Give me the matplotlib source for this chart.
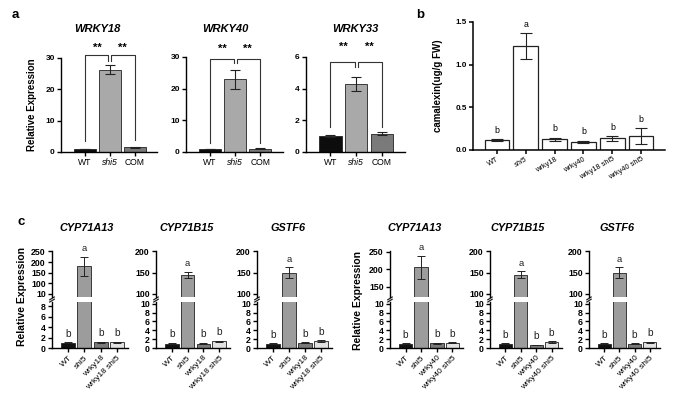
import numpy as np
import matplotlib
matplotlib.use("Agg")
import matplotlib.pyplot as plt

plt.rcParams['font.family'] = ['Liberation Sans', 'DejaVu Sans']

# ---------------- data ----------------
a_genes = ['WRKY18', 'WRKY40', 'WRKY33']
a_groups = ['WT', 'shi5', 'COM']
a_wrky18_mean = [1.0, 26.3, 1.5]
a_wrky18_err = [0.1, 1.5, 0.2]
a_wrky40_mean = [1.0, 23.0, 1.0]
a_wrky40_err = [0.1, 3.0, 0.15]
a_wrky33_mean = [1.0, 4.3, 1.15]
a_wrky33_err = [0.08, 0.45, 0.1]
a_yticks18 = [0, 10, 20, 30]
a_yticks40 = [0, 10, 20, 30]
a_yticks33 = [0, 2, 4, 6]

b_groups = ['WT', 'shi5', 'wrky18', 'wrky40', 'wrky18 shi5', 'wrky40 shi5']
b_mean = [0.11, 1.22, 0.12, 0.09, 0.13, 0.16]
b_err = [0.01, 0.15, 0.02, 0.015, 0.03, 0.09]
b_letters = ['b', 'a', 'b', 'b', 'b', 'b']
b_yticks = [0.0, 0.5, 1.0, 1.5]

c_genes = ['CYP71A13', 'CYP71B15', 'GSTF6']
c_groups18 = ['WT', 'shi5', 'wrky18', 'wrky18 shi5']
c_groups40 = ['WT', 'shi5', 'wrky40', 'wrky40 shi5']
c_letters = ['b', 'a', 'b', 'b']
c18_a13_mean = [1.0, 180, 1.1, 1.1]
c18_a13_err = [0.1, 45, 0.1, 0.1]
c18_b15_mean = [1.0, 145, 1.0, 1.5]
c18_b15_err = [0.15, 7, 0.15, 0.15]
c18_gstf6_mean = [1.0, 150, 1.2, 1.6]
c18_gstf6_err = [0.05, 12, 0.1, 0.2]
c40_a13_mean = [1.0, 205, 1.1, 1.2]
c40_a13_err = [0.08, 33, 0.1, 0.1]
c40_b15_mean = [1.0, 145, 0.7, 1.3]
c40_b15_err = [0.1, 8, 0.05, 0.2]
c40_gstf6_mean = [1.0, 150, 1.0, 1.3]
c40_gstf6_err = [0.05, 12, 0.1, 0.15]
c_upper_ticks_a13_18 = [10, 100, 150, 200, 250]
c_upper_ticks_a13_40 = [150, 200, 250]
c_upper_ticks = [100, 150, 200]
c_lower_ticks_8 = [0, 2, 4, 6, 8]
c_lower_ticks_10 = [0, 2, 4, 6, 8, 10]

# ---------------- figure ----------------
W, H = 680, 401
fig = plt.figure(figsize=(W / 100, H / 100), dpi=100)
fig.patch.set_facecolor('white')


def add_ax(x0, y0, x1, y1):
    return fig.add_axes([x0 / W, 1 - y1 / H, (x1 - x0) / W, (y1 - y0) / H])


def ftext(x, y, s, **kw):
    fig.text(x / W, 1 - y / H, s, **kw)


def style(ax, lw=1.0, bottom=True):
    for s in ['top', 'right']:
        ax.spines[s].set_visible(False)
    ax.spines['left'].set_linewidth(lw)
    ax.spines['bottom'].set_linewidth(lw)
    if not bottom:
        ax.spines['bottom'].set_visible(False)
    ax.tick_params(direction='out', length=3, width=lw, pad=1.5)
    ax.patch.set_alpha(0)


# ---------------- panel a ----------------
a_colors = ['#0d0d0d', '#a9a9a9', '#7a7a7a']
a_sets = [
    ((61, 58, 157, 152), a_wrky18_mean, a_wrky18_err, (0, 30), a_yticks18,
     dict(top=30.9, l=3.4, r=3.7, m=29.2, star=33.2)),
    ((186, 57, 283, 152), a_wrky40_mean, a_wrky40_err, (0, 30), a_yticks40,
     dict(top=29.5, l=2.9, r=2.8, m=28.0, star=32.6)),
    ((306, 57, 405, 152), a_wrky33_mean, a_wrky33_err, (0, 6), a_yticks33,
     dict(top=5.7, l=1.58, r=1.56, m=5.35, star=6.65)),
]
a_title_x = [97, 225, 355]
for i, (box, m, e, yl, yt, br) in enumerate(a_sets):
    ax = add_ax(*box)
    x = np.arange(len(a_groups))
    ax.bar(x, m, width=0.88, color=a_colors, edgecolor='#222222', linewidth=0.6)
    ax.errorbar(x, m, yerr=e, fmt='none', ecolor='#222222', elinewidth=0.8,
                capsize=3.5, capthick=0.8)
    ax.set_xlim(-0.95, 2.9)
    ax.set_ylim(*yl)
    ax.set_yticks(yt)
    ax.set_yticklabels([str(v) for v in yt], fontsize=6, fontweight='bold')
    ax.set_xticks(x)
    ax.set_xticklabels(a_groups, fontsize=6.2)
    ax.get_xticklabels()[1].set_style('italic')
    style(ax, lw=1.0)
    g = 0.06
    kw = dict(color='#333333', lw=0.8, clip_on=False)
    ax.plot([0, 0, 1 - g, 1 - g], [br['l'], br['top'], br['top'], br['m']], **kw)
    ax.plot([1 + g, 1 + g, 2, 2], [br['m'], br['top'], br['top'], br['r']], **kw)
    for sx in (0.5, 1.5):
        ax.text(sx, br['star'], '**', ha='center', va='center', fontsize=8,
                fontweight='bold', clip_on=False)
    ftext(a_title_x[i], 29, a_genes[i], ha='center', va='center', fontsize=8,
          fontweight='bold', style='italic')

ftext(32, 105, 'Relative Expression', rotation=90, ha='center', va='center',
      fontsize=7, fontweight='bold')
ftext(15, 15, 'a', ha='center', va='center', fontsize=9.5, fontweight='bold')

# ---------------- panel b ----------------
axb = add_ax(473, 22, 665, 149.5)
xb = np.arange(len(b_groups))
axb.bar(xb, b_mean, width=0.84, color='white', edgecolor='#222222', linewidth=0.9)
axb.errorbar(xb, b_mean, yerr=b_err, fmt='none', ecolor='#222222', elinewidth=0.8,
             capsize=4, capthick=0.8)
for xi, mi, ei, li in zip(xb, b_mean, b_err, b_letters):
    axb.annotate(li, (xi, mi + ei), xytext=(0, 3), textcoords='offset points',
                 ha='center', va='bottom', fontsize=6.3)
axb.set_xlim(-0.82, 5.82)
axb.set_ylim(0, 1.5)
axb.set_yticks(b_yticks)
axb.set_yticklabels([f'{v:.1f}' for v in b_yticks], fontsize=5.8, fontweight='bold')
axb.set_xticks(xb)
axb.set_xticklabels(b_groups, fontsize=5.3, rotation=30, ha='right',
                    rotation_mode='anchor')
axb.get_xticklabels()[1].set_style('italic')
style(axb, lw=1.1)
ftext(438, 86, 'camalexin(ug/g FW)', rotation=90, ha='center', va='center',
      fontsize=7, fontweight='bold')
ftext(420, 15, 'b', ha='center', va='center', fontsize=9.5, fontweight='bold')

# ---------------- panel c ----------------
c_colors = ['#111111', '#9c9c9c', '#7a7a7a', '#e2e2e2']

pw_pts = [0, 10, 100, 150, 200, 250, 300]
pw_pos = [-1, 0, 1, 2, 3, 4, 5]


def fwd(v):
    return np.interp(v, pw_pts, pw_pos)


def inv(p):
    return np.interp(p, pw_pos, pw_pts)


c_sets = [
    (52, 128, c_groups18, c18_a13_mean, c18_a13_err, 'pw', (7, 252), c_upper_ticks_a13_18, (0, 8.8), c_lower_ticks_8),
    (156, 230, c_groups18, c18_b15_mean, c18_b15_err, 'lin', (92, 201), c_upper_ticks, (0, 10.4), c_lower_ticks_10),
    (257, 332, c_groups18, c18_gstf6_mean, c18_gstf6_err, 'lin', (92, 201), c_upper_ticks, (0, 10.4), c_lower_ticks_10),
    (390, 463, c_groups40, c40_a13_mean, c40_a13_err, 'lin', (120, 252), c_upper_ticks_a13_40, (0, 10.4), c_lower_ticks_10),
    (490, 562, c_groups40, c40_b15_mean, c40_b15_err, 'lin', (92, 201), c_upper_ticks, (0, 10.4), c_lower_ticks_10),
    (589, 660, c_groups40, c40_gstf6_mean, c40_gstf6_err, 'lin', (92, 201), c_upper_ticks, (0, 10.4), c_lower_ticks_10),
]
c_title_x = [87, 187, 288, 415, 518, 617]
UP_TOP, UP_BOT, LO_TOP, LO_BOT = 251, 297, 302, 348

for i, (x0, x1, groups, m, e, sc, uyl, uyt, lyl, lyt) in enumerate(c_sets):
    xs = np.arange(len(groups))
    axu = add_ax(x0, UP_TOP, x1, UP_BOT)
    axl = add_ax(x0, LO_TOP, x1, LO_BOT)
    if sc == 'pw':
        axu.set_yscale('function', functions=(fwd, inv))
    for ax, yl, yt in ((axu, uyl, uyt), (axl, lyl, lyt)):
        ax.bar(xs, m, width=0.86, color=c_colors, edgecolor='#222222', linewidth=0.6)
        ax.errorbar(xs, m, yerr=e, fmt='none', ecolor='#222222', elinewidth=0.7,
                    capsize=3, capthick=0.7)
        ax.set_xlim(-1.0, 3.68)
        ax.set_ylim(*yl)
        ax.set_yticks(yt)
        ax.set_yticklabels([str(v) for v in yt], fontsize=6.3, fontweight='bold')
        ax.yaxis.set_minor_locator(matplotlib.ticker.NullLocator())
        for xi, mi, ei, li in zip(xs, m, e, c_letters):
            top = mi + ei
            if yl[0] < top < yl[1]:
                ax.annotate(li, (xi, top), xytext=(0, 2.5), textcoords='offset points',
                            ha='center', va='bottom', fontsize=7.3 if li == 'b' else 6.8,
                            color='#222222')
    style(axu, lw=1.0, bottom=False)
    axu.set_xticks([])
    style(axl, lw=1.0)
    axl.set_xticks(xs)
    axl.set_xticklabels(groups, fontsize=6, rotation=45, ha='right',
                        rotation_mode='anchor')
    # break marks on left spine
    d = dict(color='#222222', lw=0.9, clip_on=False)
    axu.plot([-0.03, 0.03], [-0.06, 0.0], transform=axu.transAxes, **d)
    axl.plot([-0.03, 0.03], [1.0, 1.06], transform=axl.transAxes, **d)
    ftext(c_title_x[i], 228, c_genes[i % 3], ha='center', va='center', fontsize=7.8,
          fontweight='bold', style='italic')

ftext(22, 297, 'Relative Expression', rotation=90, ha='center', va='center',
      fontsize=7.5, fontweight='bold')
ftext(358, 300, 'Relative Expression', rotation=90, ha='center', va='center',
      fontsize=7.5, fontweight='bold')
ftext(21, 222, 'c', ha='center', va='center', fontsize=9.5, fontweight='bold')

fig.savefig('out.png', dpi=100)
